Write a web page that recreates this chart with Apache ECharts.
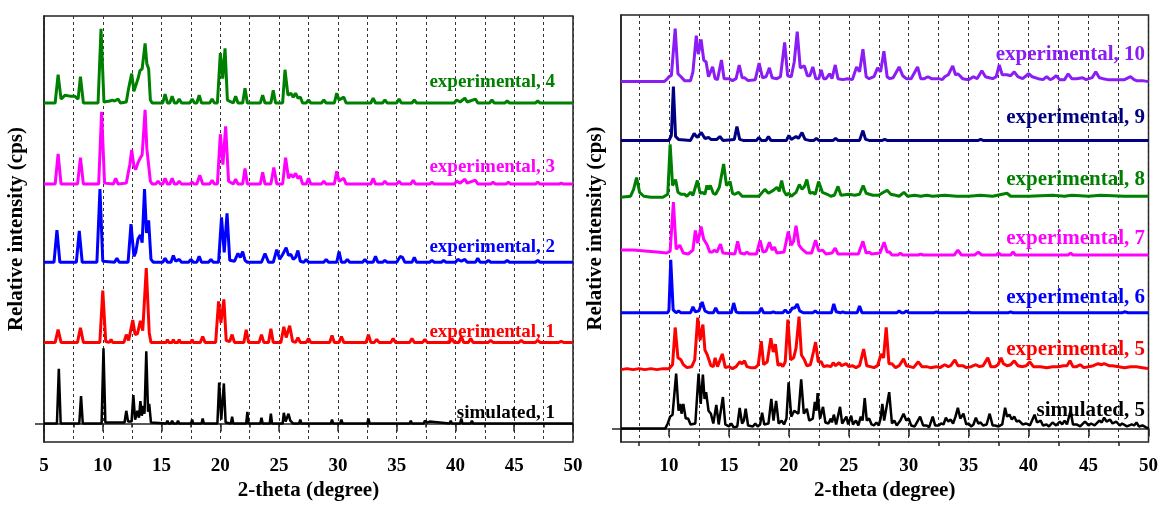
<!DOCTYPE html>
<html>
<head>
<meta charset="utf-8">
<title>PXRD</title>
<script src="https://cdn.jsdelivr.net/npm/echarts@6/dist/echarts.min.js"></script>
<style>
    html, body { margin: 0; padding: 0; background: #fff; }
    #js_chartXrd { width: 1161px; height: 506px; }
</style>
</head>
<body>
<div id="js_chartXrd"></div>
<script>
// 2-theta / relative intensity points (each trace from its own baseline)
var sim1 = [[5,0],[6.1,0],[6.26,56],[6.42,0],[8.0,0],[8.15,28],[8.3,0],[9.9,0],[10.06,77],[10.22,1],[10.6,1],[10.7,3],[10.85,1],[11.85,1],[12.0,13],[12.15,2],[12.45,2],[12.6,29],[12.75,4],[12.95,13],[13.08,6],[13.2,23],[13.32,8],[13.45,18],[13.55,10],[13.7,74],[13.85,12],[13.95,20],[14.1,1],[15.4,0],[15.5,3],[15.6,0],[15.8,0],[15.9,3],[16.0,0],[16.3,0],[16.4,3],[16.5,0],[17.5,0],[17.6,4],[17.7,0],[18.4,0],[18.5,5],[18.6,0],[19.75,0],[19.9,42],[20.08,4],[20.3,41],[20.45,1],[20.9,0],[21.0,7],[21.1,0],[22.2,0],[22.3,12],[22.4,0],[23.4,0],[23.5,6],[23.6,0],[24.2,0],[24.3,10],[24.4,0],[25.3,0],[25.4,11],[25.55,2],[25.8,10],[25.95,3],[26.1,5],[26.2,0],[26.7,0],[26.8,4],[26.9,0],[27.5,0],[27.6,2],[27.7,0],[29.4,0],[29.5,4],[29.6,0],[30.2,0],[30.3,4],[30.4,0],[32.5,0],[32.6,5],[32.7,0],[33.2,0],[33.3,2],[33.4,0],[34.7,0],[34.8,2],[34.9,0],[36.1,0],[36.2,3],[36.3,0],[37.3,0],[37.4,3],[37.6,1],[37.8,2],[37.9,0],[39.5,0],[39.6,3],[39.7,0],[40.4,0],[40.5,5],[40.6,0],[41.3,0],[41.4,3],[41.5,0],[42.9,0],[43.0,2],[43.1,0],[45.4,0],[45.5,2],[45.6,0],[46.4,0],[46.5,2],[46.6,0],[47.9,0],[48.0,1],[48.1,0],[50,0]];
var exp1 = [[5,0],[5.95,0],[6.2,13],[6.45,0],[7.85,0],[8.1,15],[8.35,0],[9.75,0],[10.0,53],[10.25,1],[10.55,0],[10.7,3],[10.85,0],[11.8,0],[12.0,8],[12.2,2],[12.35,4],[12.55,23],[12.75,8],[12.95,9],[13.2,22],[13.4,12],[13.7,76],[13.95,10],[14.1,0],[15.4,0],[15.5,3],[15.6,0],[15.9,0],[16.0,3],[16.1,0],[16.4,0],[16.5,3],[16.6,0],[17.5,0],[17.6,3],[17.7,0],[18.3,0],[18.5,6],[18.7,0],[19.6,0],[19.85,42],[20.05,20],[20.3,44],[20.5,2],[20.8,1],[21.0,8],[21.2,0],[22.0,0],[22.2,13],[22.4,0],[23.3,0],[23.5,8],[23.7,0],[24.1,0],[24.3,14],[24.5,0],[25.15,0],[25.4,16],[25.6,5],[25.9,17],[26.15,1],[26.4,0],[26.6,5],[26.8,0],[27.3,0],[27.5,4],[27.7,0],[29.3,0],[29.5,7],[29.7,0],[30.1,0],[30.3,6],[30.5,0],[32.4,0],[32.6,8],[32.8,0],[33.1,0],[33.3,3],[33.5,0],[34.5,0],[34.7,4],[34.9,0],[36.1,0],[36.3,4],[36.5,0],[37.2,0],[37.4,3],[37.6,0],[39.5,0],[39.7,4],[39.9,0],[40.3,0],[40.5,6],[40.7,0],[41.1,0],[41.3,4],[41.5,0],[42.8,0],[43.0,2],[43.2,0],[45.4,0],[45.6,2],[45.8,0],[46.8,0],[47.0,2],[47.2,0],[48.8,0],[49.0,1],[49.2,0],[50,0]];
var exp2 = [[5,0],[5.85,0],[6.1,33],[6.35,0],[7.75,0],[8.0,32],[8.25,0],[9.5,0],[9.76,75],[10.0,1],[11.0,0],[11.2,4],[11.4,0],[12.15,0],[12.4,39],[12.65,6],[12.8,10],[13.0,24],[13.2,28],[13.35,20],[13.55,75],[13.72,30],[13.9,43],[14.1,3],[14.3,0],[15.1,0],[15.3,4],[15.5,0],[15.8,0],[16.0,7],[16.2,1],[16.5,3],[16.7,0],[17.3,0],[17.5,3],[17.7,0],[18.0,0],[18.2,6],[18.4,0],[19.0,0],[19.2,3],[19.4,0],[19.85,0],[20.1,46],[20.33,10],[20.57,50],[20.8,2],[21.2,1],[21.5,9],[21.7,5],[21.9,11],[22.1,2],[22.3,0],[23.5,0],[23.8,9],[24.1,0],[24.5,0],[24.8,13],[25.05,3],[25.3,8],[25.6,15],[25.8,7],[26.0,8],[26.2,3],[26.4,5],[26.6,12],[26.8,1],[27.1,0],[27.3,3],[27.5,0],[28.8,0],[29.0,3],[29.2,0],[29.9,0],[30.1,11],[30.3,0],[30.6,0],[30.8,3],[31.0,0],[32.1,0],[32.3,3],[32.5,0],[33.0,0],[33.2,6],[33.4,0],[33.8,0],[34.0,2],[34.2,0],[35.0,0],[35.3,6],[35.5,5],[35.7,0],[36.3,0],[36.5,5],[36.7,0],[37.8,0],[38.0,2],[38.2,0],[38.8,0],[39.0,2],[39.2,0],[40.0,0],[40.2,3],[40.5,1],[40.8,3],[41.0,0],[41.7,0],[41.9,4],[42.1,0],[42.6,0],[42.8,2],[43.0,0],[44.2,0],[44.4,2],[44.6,0],[46.8,0],[47.0,2],[47.2,0],[50,0]];
var exp3 = [[5,0],[5.95,0],[6.2,31],[6.45,0],[7.85,0],[8.1,27],[8.35,0],[9.65,0],[9.9,74],[10.15,1],[10.9,0],[11.1,6],[11.3,0],[12.0,1],[12.3,20],[12.46,35],[12.65,18],[12.8,15],[13.0,22],[13.16,26],[13.35,30],[13.6,76],[13.75,36],[13.87,37],[14.05,3],[14.2,0],[14.5,0],[14.7,3],[14.9,0],[15.1,0],[15.3,6],[15.5,0],[15.7,0],[15.9,6],[16.1,0],[16.3,0],[16.5,3],[16.7,0],[17.4,0],[17.6,2],[17.8,0],[18.0,0],[18.25,9],[18.5,0],[19.1,0],[19.3,4],[19.5,0],[19.75,0],[20.0,51],[20.22,20],[20.45,59],[20.7,3],[21.1,0],[21.3,5],[21.5,0],[21.9,0],[22.1,16],[22.3,0],[23.4,0],[23.6,12],[23.8,0],[24.3,0],[24.55,17],[24.8,0],[25.3,0],[25.55,27],[25.8,6],[26.0,10],[26.2,7],[26.4,11],[26.6,6],[26.8,8],[27.0,0],[27.3,0],[27.5,6],[27.7,0],[28.6,0],[28.8,3],[29.0,0],[29.7,0],[29.9,13],[30.1,3],[30.5,6],[30.7,0],[32.8,0],[33.0,6],[33.2,0],[33.8,0],[34.0,3],[34.2,0],[35.0,0],[35.2,3],[35.4,0],[36.2,0],[36.4,4],[36.6,0],[37.8,0],[38.0,2],[38.2,0],[39.9,0],[40.1,3],[40.4,1],[40.8,5],[41.0,1],[41.7,4],[41.9,0],[43.0,0],[43.2,2],[43.4,0],[44.3,0],[44.5,2],[44.7,0],[46.8,0],[47.0,2],[47.2,0],[48.8,0],[49.0,1],[49.2,0],[50,0]];
var exp4 = [[5,0],[5.95,0],[6.2,29],[6.45,4],[6.8,8],[7.2,7],[7.6,7],[7.9,4],[8.1,27],[8.35,0],[9.6,0],[9.85,76],[10.1,1],[10.6,2],[10.8,3],[11.0,2],[11.3,4],[11.5,0],[12.0,1],[12.2,15],[12.46,30],[12.65,12],[12.8,10],[13.0,25],[13.16,33],[13.35,35],[13.6,61],[13.75,40],[13.9,35],[14.05,3],[14.2,0],[15.1,0],[15.3,9],[15.5,0],[15.7,0],[15.9,7],[16.1,0],[16.3,0],[16.5,4],[16.7,0],[17.4,0],[17.6,4],[17.8,0],[18.0,0],[18.2,8],[18.4,0],[19.1,0],[19.3,4],[19.5,0],[19.75,0],[20.0,51],[20.2,25],[20.4,56],[20.6,3],[21.1,0],[21.3,7],[21.5,0],[21.9,0],[22.1,15],[22.3,0],[23.4,0],[23.6,8],[23.8,0],[24.3,0],[24.5,13],[24.7,0],[25.3,0],[25.5,34],[25.75,8],[26.0,10],[26.2,6],[26.4,10],[26.6,5],[26.8,6],[27.0,0],[27.3,0],[27.5,3],[27.7,0],[28.6,0],[28.8,3],[29.0,0],[29.7,0],[29.9,10],[30.1,3],[30.5,6],[30.7,0],[32.8,0],[33.0,5],[33.2,0],[33.8,0],[34.0,3],[34.2,0],[35.0,0],[35.2,4],[35.4,0],[36.3,0],[36.5,3],[36.7,0],[39.9,0],[40.1,3],[40.4,1],[40.8,5],[41.0,1],[41.7,4],[41.9,0],[42.9,0],[43.1,3],[43.3,0],[44.2,0],[44.4,2],[44.6,0],[46.8,0],[47.0,2],[47.2,0],[50,0]];

var sim5 = [[6,0],[9.7,0],[9.9,5],[10.1,12],[10.3,14],[10.6,56],[10.8,18],[10.95,25],[11.05,15],[11.2,25],[11.4,10],[11.6,10],[11.8,4],[12.2,5],[12.47,56],[12.65,25],[12.83,55],[12.97,30],[13.1,37],[13.3,18],[13.5,15],[13.7,5],[13.95,24],[14.15,4],[14.3,3],[14.5,32],[14.7,4],[15.0,2],[15.2,5],[15.4,1],[15.7,2],[15.9,21],[16.1,5],[16.25,8],[16.4,20],[16.6,3],[17.0,2],[17.2,5],[17.4,2],[17.6,4],[17.77,16],[17.95,4],[18.3,5],[18.54,30],[18.72,8],[18.94,28],[19.15,5],[19.4,8],[19.6,4],[19.8,10],[19.98,47],[20.2,12],[20.45,18],[20.6,20],[20.8,15],[21.03,50],[21.25,15],[21.5,20],[21.7,8],[22.0,10],[22.17,27],[22.3,18],[22.4,36],[22.6,10],[22.85,22],[23.05,6],[23.3,5],[23.5,10],[23.6,6],[23.75,14],[23.95,4],[24.1,5],[24.27,22],[24.45,5],[24.6,6],[24.8,12],[24.95,4],[25.2,13],[25.35,4],[25.6,8],[25.8,3],[26.0,12],[26.15,8],[26.33,31],[26.5,8],[26.7,10],[26.9,4],[27.1,3],[27.3,6],[27.5,3],[27.65,10],[27.8,25],[27.95,8],[28.1,10],[28.37,37],[28.6,5],[28.8,8],[29.0,3],[29.3,8],[29.57,15],[29.8,8],[30.0,10],[30.2,3],[30.5,2],[30.95,12],[31.2,3],[31.5,3],[31.7,1],[32.0,12],[32.2,3],[32.5,3],[32.7,5],[32.9,4],[33.1,11],[33.3,7],[33.5,9],[33.7,5],[33.9,12],[34.1,21],[34.3,10],[34.56,15],[34.8,4],[35.0,5],[35.2,2],[35.4,4],[35.6,11],[35.8,5],[36.0,6],[36.2,3],[36.5,4],[36.75,15],[37.0,3],[37.2,3],[37.5,2],[37.8,4],[38.04,21],[38.2,12],[38.4,14],[38.6,9],[38.8,12],[39.0,7],[39.2,8],[39.5,4],[39.8,5],[40.1,3],[40.5,14],[40.7,6],[41.0,8],[41.2,3],[41.5,4],[41.7,2],[42.0,6],[42.3,3],[42.6,7],[42.8,4],[43.0,8],[43.2,4],[43.5,18],[43.7,4],[44.0,4],[44.3,2],[44.7,7],[45.0,3],[45.2,5],[45.5,3],[45.9,8],[46.1,6],[46.3,11],[46.5,7],[46.8,9],[47.0,5],[47.3,7],[47.6,3],[47.8,5],[48.2,2],[48.6,4],[48.8,3],[49.0,6],[49.2,2],[49.5,3],[49.8,1],[50,0]];
var exp5 = [[6,0],[6.5,1],[7,0],[7.5,1],[8,0],[8.5,1],[9,0],[9.5,1],[10,1],[10.3,5],[10.52,43],[10.75,12],[11.0,10],[11.2,5],[11.5,2],[11.9,3],[12.15,10],[12.4,53],[12.6,30],[12.83,46],[13.0,20],[13.2,15],[13.5,4],[13.7,3],[13.85,12],[14.05,3],[14.2,4],[14.45,16],[14.7,2],[15.0,3],[15.3,1],[15.6,3],[15.9,8],[16.1,6],[16.3,9],[16.5,3],[16.8,2],[17.2,2],[17.45,5],[17.7,29],[17.9,5],[18.2,8],[18.5,32],[18.7,18],[18.88,26],[19.1,4],[19.3,6],[19.5,3],[19.7,8],[19.92,51],[20.15,10],[20.4,12],[20.6,22],[20.85,54],[21.05,15],[21.3,10],[21.5,4],[21.8,5],[22.05,18],[22.23,28],[22.45,8],[22.7,8],[22.9,3],[23.2,4],[23.5,3],[23.7,7],[23.9,4],[24.2,7],[24.4,4],[24.6,5],[24.8,6],[25.0,3],[25.3,4],[25.6,2],[25.9,4],[26.24,21],[26.5,4],[26.8,3],[27.1,2],[27.4,4],[27.7,16],[27.9,12],[28.12,43],[28.35,6],[28.6,6],[28.9,2],[29.2,4],[29.57,11],[29.8,4],[30.1,3],[30.4,2],[30.8,8],[31.1,3],[31.5,3],[31.8,2],[32.3,3],[32.6,2],[33.0,5],[33.3,3],[33.5,4],[33.85,10],[34.1,4],[34.5,4],[34.8,2],[35.2,3],[35.6,5],[35.9,3],[36.2,4],[36.6,12],[36.85,3],[37.2,3],[37.45,5],[37.7,12],[37.9,6],[38.2,4],[38.5,5],[38.8,9],[39.1,4],[39.5,3],[39.8,4],[40.1,8],[40.4,3],[40.7,3],[41.0,3],[41.5,2],[42.0,3],[42.5,3],[42.9,4],[43.2,4],[43.45,9],[43.7,3],[44.0,3],[44.3,5],[44.6,2],[45.0,3],[45.4,4],[45.8,6],[46.1,5],[46.3,6],[46.7,4],[47.0,4],[47.5,3],[48.0,2],[48.5,3],[49.0,3],[49.5,2],[50,1]];
var exp6 = [[6,0],[9.9,0],[10.0,3],[10.15,54],[10.35,3],[10.6,0],[10.8,2],[11.0,0],[11.8,0],[12.0,6],[12.2,1],[12.5,2],[12.77,11],[13.0,2],[13.3,0],[13.7,0],[13.9,5],[14.1,0],[15.2,0],[15.4,10],[15.6,1],[15.8,0],[17.5,0],[17.7,5],[17.9,0],[18.5,0],[18.7,1],[18.9,0],[19.5,0],[19.7,3],[19.9,0],[20.1,1],[20.3,5],[20.5,5],[20.7,9],[20.9,2],[21.2,0],[22.0,0],[22.2,2],[22.4,0],[23.55,0],[23.75,9],[23.95,1],[24.3,0],[24.5,1],[24.7,0],[25.7,0],[25.9,7],[26.1,0],[29.0,0],[29.2,2],[29.4,0],[29.6,0],[29.8,2],[30.0,0],[32.1,0],[32.3,1],[32.5,0],[34.8,0],[35.0,1],[35.2,0],[38.3,0],[38.5,1],[38.7,0],[47.8,0],[48.0,1],[48.3,0],[50,0]];
var exp7 = [[6,5],[7,5],[8,4],[9,3],[9.8,2],[10.1,4],[10.37,54],[10.6,6],[10.9,10],[11.2,2],[11.6,1],[12.0,5],[12.2,25],[12.4,12],[12.68,29],[12.9,16],[13.2,10],[13.4,3],[13.6,3],[13.8,5],[14.0,3],[14.3,11],[14.5,2],[15.5,1],[15.73,14],[15.95,2],[16.3,1],[16.5,3],[16.7,1],[17.3,1],[17.6,15],[17.85,3],[18.1,4],[18.38,13],[18.6,5],[18.8,8],[19.0,2],[19.6,3],[19.95,24],[20.2,10],[20.4,14],[20.6,30],[20.85,10],[21.1,6],[21.2,8],[21.5,2],[21.9,2],[22.23,15],[22.5,4],[22.8,5],[23.1,1],[23.6,2],[23.87,7],[24.1,1],[25.8,1],[26.18,14],[26.45,2],[26.7,3],[26.9,1],[27.6,2],[27.95,13],[28.2,3],[28.4,3],[28.6,0],[29.1,0],[29.3,2],[29.5,0],[30.8,0],[31.0,1],[31.2,0],[33.8,0],[34.1,5],[34.4,0],[35.5,0],[35.8,3],[36.1,0],[37.3,0],[37.5,2],[37.7,0],[38.5,0],[38.7,3],[38.9,0],[43.3,0],[43.5,2],[43.7,0],[50,0]];
var exp8 = [[6,0],[6.8,1],[7.05,8],[7.3,20],[7.55,5],[7.9,1],[8.5,0],[9.5,0],[9.9,3],[10.1,54],[10.3,12],[10.55,18],[10.75,5],[11.0,3],[11.3,3],[11.5,1],[11.8,5],[12.0,2],[12.37,17],[12.6,4],[12.8,5],[13.0,3],[13.17,12],[13.3,8],[13.45,12],[13.7,4],[13.9,3],[14.2,10],[14.56,34],[14.8,12],[15.1,16],[15.3,4],[15.5,3],[15.8,5],[16.1,1],[16.5,1],[17.0,1],[17.5,1],[18.0,8],[18.3,4],[18.7,7],[19.0,10],[19.2,6],[19.4,17],[19.6,6],[19.8,2],[20.0,4],[20.2,1],[20.6,5],[20.88,13],[21.1,8],[21.3,11],[21.5,18],[21.75,4],[22.0,5],[22.2,3],[22.48,16],[22.8,5],[23.2,3],[23.5,1],[23.8,2],[24.1,11],[24.35,2],[25.0,3],[25.5,2],[25.9,3],[26.2,12],[26.45,4],[27.0,2],[27.5,2],[27.9,5],[28.2,7],[28.5,3],[28.9,2],[29.2,1],[29.6,5],[29.9,1],[30.5,2],[31.0,1],[31.5,2],[32.0,1],[33.0,2],[34.0,1],[35.0,1],[36.0,2],[37.0,1],[38.2,4],[38.5,1],[40.0,1],[42.0,2],[43.0,1],[43.6,2],[45.0,1],[46.0,2],[48.0,1],[50,1]];
var exp9 = [[6,0],[10.0,0],[10.2,5],[10.37,55],[10.55,4],[10.8,1],[11.8,0],[12.1,7],[12.35,3],[12.7,8],[13.0,2],[13.3,3],[13.5,1],[14.0,1],[14.25,4],[14.5,0],[15.45,1],[15.67,14],[15.9,1],[16.2,0],[17.3,0],[17.5,3],[17.7,0],[18.1,0],[18.3,4],[18.5,0],[19.8,0],[20.0,5],[20.2,1],[20.6,4],[20.8,2],[21.1,8],[21.35,1],[21.7,0],[22.1,0],[22.3,2],[22.5,0],[23.7,0],[23.9,2],[24.1,0],[25.9,0],[26.18,10],[26.4,1],[26.7,0],[27.8,0],[28,1],[28.2,0],[35.8,0],[36.0,1],[36.2,0],[50,0]];
var exp10 = [[6,0],[9.6,0],[9.8,2],[10.0,5],[10.2,6],[10.52,54],[10.75,8],[11.0,5],[11.3,1],[11.8,1],[12.0,10],[12.28,47],[12.45,28],[12.68,43],[12.9,22],[13.1,20],[13.3,5],[13.45,3],[13.64,15],[13.85,3],[14.05,2],[14.38,22],[14.6,3],[15.0,3],[15.3,1],[15.6,3],[15.86,17],[16.1,4],[16.3,4],[16.6,1],[17.2,2],[17.52,19],[17.8,4],[18.1,5],[18.38,14],[18.6,4],[19.0,3],[19.3,5],[19.65,40],[19.9,6],[20.2,5],[20.45,20],[20.7,51],[20.95,14],[21.1,15],[21.3,16],[21.55,6],[21.75,6],[22.0,15],[22.25,3],[22.5,3],[22.7,12],[22.9,3],[23.1,3],[23.4,8],[23.6,3],[23.87,17],[24.1,3],[24.5,2],[24.9,3],[25.3,2],[25.65,15],[25.9,10],[26.18,33],[26.45,5],[26.7,3],[27.1,5],[27.4,14],[27.65,10],[27.93,31],[28.2,5],[28.4,3],[28.7,4],[29.2,15],[29.5,6],[29.8,3],[30.2,3],[30.74,15],[31.0,3],[31.3,3],[31.6,5],[31.9,3],[32.5,3],[32.8,2],[33.0,5],[33.3,7],[33.67,16],[33.9,7],[34.1,8],[34.5,3],[35.0,2],[35.4,5],[35.7,3],[36.1,11],[36.4,5],[36.7,4],[37.0,3],[37.3,5],[37.55,17],[37.8,7],[38.2,7],[38.5,6],[38.8,10],[39.1,5],[39.5,3],[39.8,6],[40.0,8],[40.3,5],[40.8,3],[41.2,2],[41.5,5],[41.8,2],[42.0,3],[42.3,6],[42.6,2],[43.0,2],[43.3,8],[43.6,3],[44.0,3],[44.5,4],[44.8,2],[45.3,4],[45.6,10],[45.9,4],[46.2,3],[46.6,2],[47.0,2],[47.5,2],[48.0,2],[48.5,5],[48.8,2],[49.0,1],[49.5,1],[50,0]];

// stacking (bottom to top)
var leftNames = ['simulated, 1', 'experimental, 1', 'experimental, 2', 'experimental, 3', 'experimental, 4'];
var leftData = [sim1, exp1, exp2, exp3, exp4];
var leftOffsets = [0, 83, 165, 245, 328];
var rightNames = ['simulated, 5', 'experimental, 5', 'experimental, 6', 'experimental, 7', 'experimental, 8', 'experimental, 9', 'experimental, 10'];
var rightData = [sim5, exp5, exp6, exp7, exp8, exp9, exp10];
var rightOffsets = [0, 60, 118, 177, 236, 294, 354];
var rightTicks = [10, 15, 20, 25, 30, 35, 40, 45, 50];
var rightMinorTicks = [7.5, 12.5, 17.5, 22.5, 27.5, 32.5, 37.5, 42.5, 47.5];

(function() {
    var FONT = 'Liberation Serif';
    var leftColors = ['#000000', '#ff0000', '#0000ff', '#ff00ff', '#008000'];
    var rightColors = ['#000000', '#ff0000', '#0000ff', '#ff00ff', '#008000', '#000080', '#8a1cf5'];
    var leftLabelY = [413, 332, 247, 167, 82];
    var rightLabelY = [411, 350, 298, 239, 180, 118, 55];

    function shift(pts, dy) {
        return pts.map(function(p) { return [p[0], p[1] + dy]; });
    }

    function label(text, color, x, y, size) {
        return {
            type: 'text', x: x, y: y, z: 100,
            style: { text: text, fill: color, font: 'bold ' + size + 'px "' + FONT + '"', align: 'right', verticalAlign: 'middle' }
        };
    }

    var dashed = { show: true, lineStyle: { color: '#333', type: [3, 3], width: 1 } };

    var series = [];
    var graphics = [];
    for (var i = 0; i < leftData.length; i++) {
        series.push({
            name: leftNames[i], type: 'line', xAxisIndex: 0, yAxisIndex: 0,
            showSymbol: false, symbol: 'none', silent: true,
            lineStyle: { color: leftColors[i], width: i === 0 ? 2.5 : 3 },
            data: shift(leftData[i], leftOffsets[i])
        });
        graphics.push(label(leftNames[i], leftColors[i], 555, leftLabelY[i], 19));
    }
    for (var j = 0; j < rightData.length; j++) {
        series.push({
            name: rightNames[j], type: 'line', xAxisIndex: 1, yAxisIndex: 1,
            showSymbol: false, symbol: 'none', silent: true,
            lineStyle: { color: rightColors[j], width: j === 0 ? 2.5 : 3 },
            data: shift(rightData[j], rightOffsets[j])
        });
        graphics.push(label(rightNames[j], rightColors[j], 1145, rightLabelY[j], 21));
    }

    var labelStyle = { color: '#000', fontFamily: FONT, fontWeight: 'bold', fontSize: 19, margin: 14 };
    var nameStyle = { color: '#000', fontFamily: FONT, fontWeight: 'bold', fontSize: 21 };
    var lineStyle = { color: '#222', width: 1.5 };

    var optionByXrd = {
        animation: false,
        backgroundColor: '#fff',
        grid: [
            { left: 44, top: 16, width: 529, height: 436, show: true, borderColor: '#222', borderWidth: 1.5 },
            { left: 621, top: 15, width: 530, height: 436, show: true, borderColor: '#222', borderWidth: 1.5 }
        ],
        xAxis: [{
            gridIndex: 0, type: 'value', min: 5, max: 50, interval: 5,
            name: '2-theta (degree)', nameLocation: 'middle', nameGap: 34, nameTextStyle: nameStyle,
            axisLine: { show: true, lineStyle: lineStyle },
            axisTick: { show: true, length: 8, lineStyle: lineStyle },
            minorTick: { show: true, splitNumber: 2, length: 4, lineStyle: lineStyle },
            axisLabel: labelStyle,
            splitLine: dashed,
            minorSplitLine: dashed
        }, {
            gridIndex: 1, type: 'value', min: 6, max: 50,
            name: '2-theta (degree)', nameLocation: 'middle', nameGap: 34, nameTextStyle: nameStyle,
            axisLine: { show: true, lineStyle: lineStyle },
            axisTick: { show: true, length: 8, lineStyle: lineStyle, customValues: rightTicks },
            axisLabel: Object.assign({ customValues: rightTicks }, labelStyle),
            splitLine: dashed
        }, {
            gridIndex: 1, type: 'value', min: 6, max: 50, position: 'bottom',
            axisLine: { show: false },
            axisTick: { show: true, length: 4, lineStyle: lineStyle, customValues: rightMinorTicks },
            axisLabel: { show: false },
            splitLine: dashed
        }],
        yAxis: [{
            gridIndex: 0, type: 'value', min: -19, max: 417,
            name: 'Relative intensity (cps)', nameLocation: 'middle', nameGap: 17, nameTextStyle: nameStyle,
            axisLine: { show: true, lineStyle: lineStyle },
            axisTick: { show: true, length: 9, lineStyle: lineStyle, customValues: [0] },
            axisLabel: { show: false },
            splitLine: { show: false }
        }, {
            gridIndex: 1, type: 'value', min: -14, max: 422,
            name: 'Relative intensity (cps)', nameLocation: 'middle', nameGap: 15, nameTextStyle: nameStyle,
            axisLine: { show: true, lineStyle: lineStyle },
            axisTick: { show: true, length: 9, lineStyle: lineStyle, customValues: [0] },
            axisLabel: { show: false },
            splitLine: { show: false }
        }],
        graphic: graphics,
        series: series
    };

    var chartXrd = echarts.init(document.getElementById('js_chartXrd'));
    chartXrd.setOption(optionByXrd, true);
})();
</script>
</body>
</html>
